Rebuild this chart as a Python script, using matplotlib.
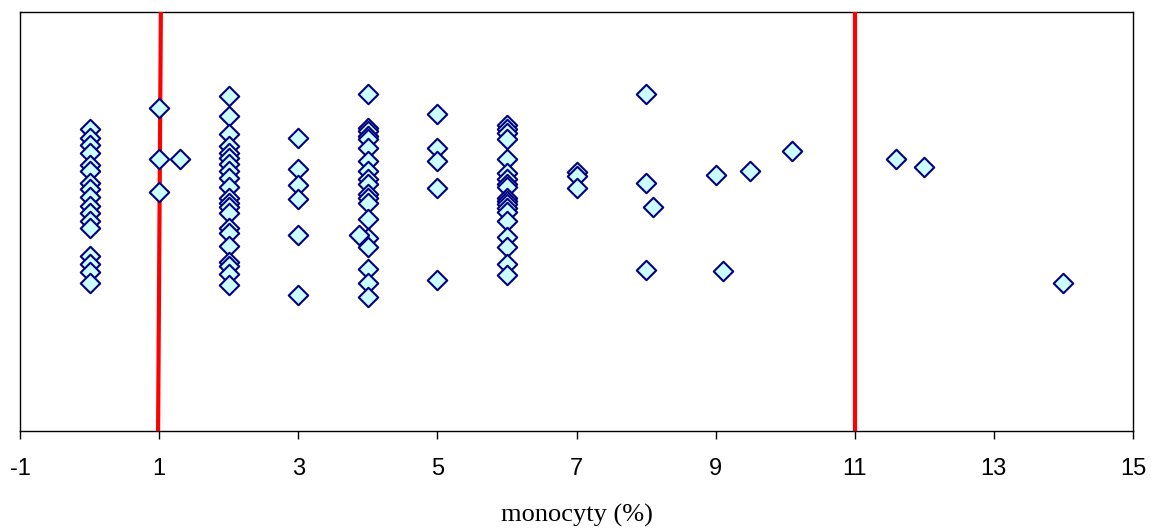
import matplotlib
matplotlib.use("Agg")
import matplotlib.pyplot as plt

# Monocyte percentage of each patient and its vertical (spread) position
monocyty = (
    [0] * 17
    + [1, 1, 1, 1.3]
    + [2] * 21
    + [3] * 6
    + [4] * 19 + [3.87]
    + [5] * 5
    + [6] * 19
    + [7] * 3
    + [8, 8, 8, 8.1]
    + [9.0, 9.1, 9.5, 10.1, 11.6, 12.0, 14.0]
)

spread = (
    [303, 294, 287, 279, 267, 261, 249, 243, 235, 226, 219, 211, 203, 175, 167, 159, 148]
    + [324, 273, 240, 273]
    + [336, 316, 298, 286, 279, 274, 268, 261, 254, 245, 234, 229, 225, 219, 203, 198, 185, 169, 165, 157, 146]
    + [294, 263, 247, 233, 196, 136]
    + [338, 304, 301, 296, 293, 284, 271, 261, 253, 248, 238, 234, 229, 213, 193, 184, 162, 148, 134] + [196]
    + [318, 284, 271, 244, 151]
    + [307, 303, 299, 293, 273, 259, 253, 248, 245, 234, 231, 228, 224, 220, 211, 194, 184, 167, 156]
    + [260, 256, 244]
    + [338, 249, 161, 225]
    + [257, 160, 261, 281, 273, 265, 148]
)

# Reference range limits (lower and upper)
limit_low = [0.985, 1.025]
limit_high = [11, 11]

x_ticks = [-1, 1, 3, 5, 7, 9, 11, 13, 15]

fig = plt.figure(figsize=(11.53, 5.31), dpi=100)
ax = fig.add_axes([20 / 1153, 1 - 431 / 531, 1113 / 1153, 419 / 531])

ax.plot(limit_low, [0, 420], color="#FF0000", lw=3, zorder=3, solid_capstyle="butt")
ax.plot(limit_high, [0, 420], color="#FF0000", lw=3, zorder=3, solid_capstyle="butt")

ax.scatter(monocyty, spread, marker="D", s=98, facecolor="#CCFFFF",
           edgecolor="#000080", linewidths=1.5, zorder=4)

ax.set_xlim(-1, 15)
ax.set_ylim(0, 420)
ax.set_xticks(x_ticks)
ax.set_xticklabels([str(t) for t in x_ticks], fontfamily="Liberation Sans", fontsize=17)
ax.set_yticks([])
ax.tick_params(axis="x", direction="out", length=5.5, width=1, pad=14)

for sp in ax.spines.values():
    sp.set_color("black")
    sp.set_linewidth(1)

ax.set_xlabel("monocyty (%)", fontfamily="Liberation Serif", fontsize=19, labelpad=17)

fig.savefig("out.png", dpi=100)
